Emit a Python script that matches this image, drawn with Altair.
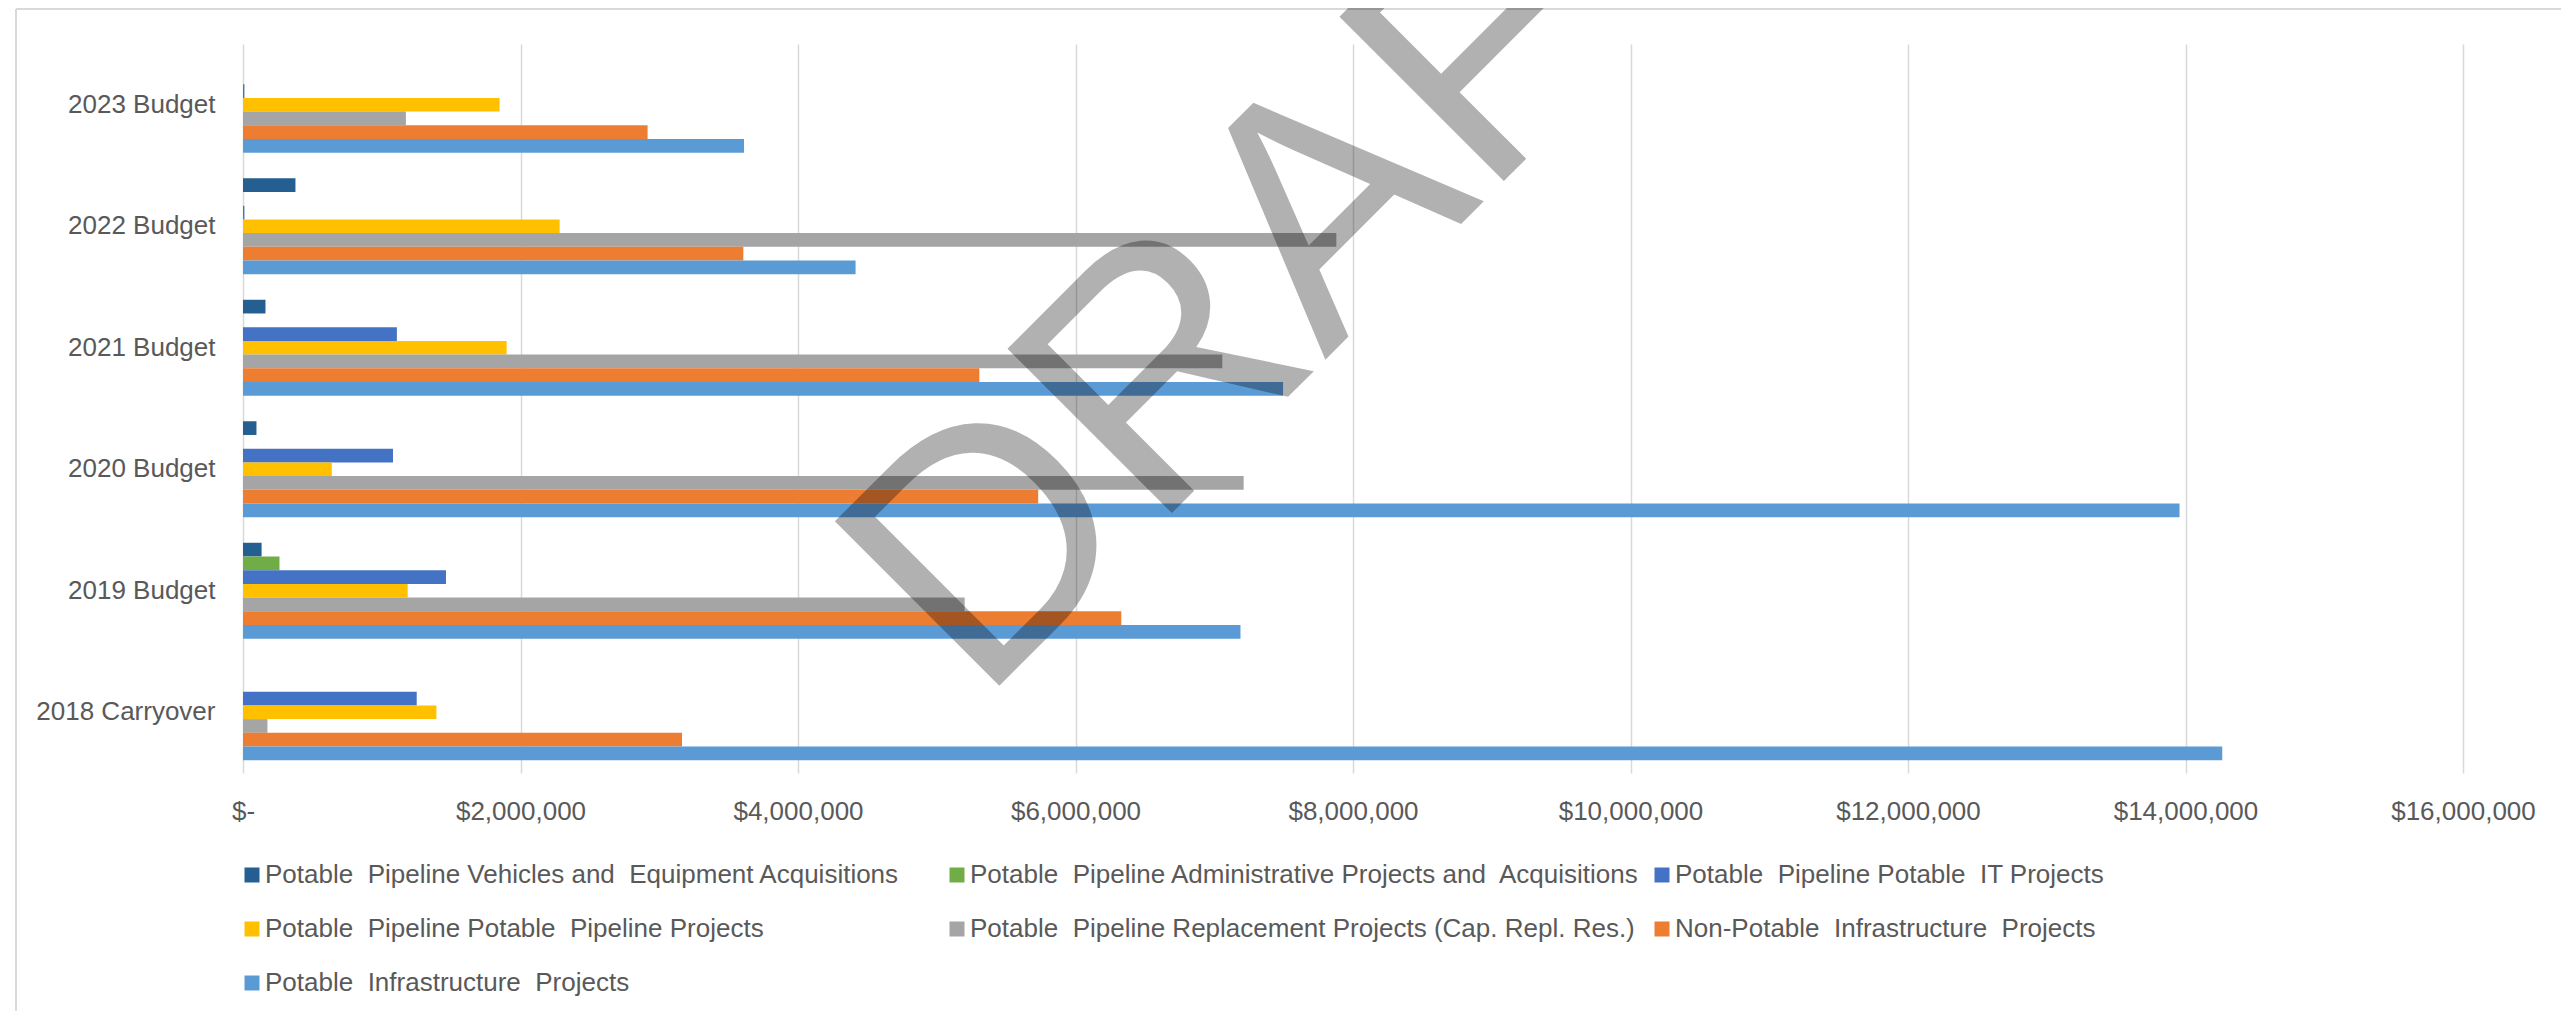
import altair as alt
import pandas as pd

categories = ["2023 Budget", "2022 Budget", "2021 Budget", "2020 Budget", "2019 Budget", "2018 Carryover"]

series = [
    "Potable  Pipeline Vehicles and  Equipment Acquisitions",
    "Potable  Pipeline Administrative Projects and  Acquisitions",
    "Potable  Pipeline Potable  IT Projects",
    "Potable  Pipeline Potable  Pipeline Projects",
    "Potable  Pipeline Replacement Projects (Cap. Repl. Res.)",
    "Non-Potable  Infrastructure  Projects",
    "Potable  Infrastructure  Projects",
]

colors = ["#255E91", "#70AD47", "#4472C4", "#FFC000", "#A5A5A5", "#ED7D31", "#5B9BD5"]

# values per series, in the order of `categories`
vehicles = [0, 378000, 162000, 97000, 134000, 0]
admin = [0, 0, 0, 0, 263000, 0]
it_projects = [10000, 10000, 1109000, 1081000, 1463000, 1252000]
pipeline = [1849000, 2282000, 1900000, 640000, 1187000, 1394000]
replacement = [1174000, 7880000, 7058000, 7212000, 5201000, 176000]
non_potable = [2916000, 3606000, 5307000, 5731000, 6330000, 3164000]
potable_infra = [3611000, 4415000, 7496000, 13957000, 7189000, 14265000]

x_ticks = [0, 2000000, 4000000, 6000000, 8000000, 10000000, 12000000, 14000000, 16000000]

all_values = [vehicles, admin, it_projects, pipeline, replacement, non_potable, potable_infra]
rows = []
for s, vals in zip(series, all_values):
    for c, v in zip(categories, vals):
        rows.append({"category": c, "series": s, "value": v})
df = pd.DataFrame(rows)

FONT = "Liberation Sans"
TXT = "#595959"
NBSP = "\u00a0"

bars = alt.Chart(df).mark_bar().encode(
    y=alt.Y("category:N", sort=categories,
            scale=alt.Scale(paddingInner=0.21, paddingOuter=0.105),
            axis=alt.Axis(title=None, ticks=False, domain=False, labelPadding=28,
                          labelFontSize=26, labelColor=TXT, labelFont=FONT, grid=False)),
    yOffset=alt.YOffset("series:N", sort=series,
                        scale=alt.Scale(domain=series, paddingInner=0, paddingOuter=0)),
    x=alt.X("value:Q", scale=alt.Scale(domain=[0, 16000000], nice=False),
            axis=alt.Axis(title=None, values=x_ticks, ticks=False, domain=False,
                          labelExpr="datum.value == 0 ? '$-' : '$' + format(datum.value, ',')",
                          labelFontSize=26, labelColor=TXT, labelFont=FONT,
                          labelPadding=38, labelBaseline="middle", labelFlush=False,
                          grid=True, gridColor="#D9D9D9", gridWidth=1.5)),
    color=alt.Color("series:N", sort=series,
                    scale=alt.Scale(domain=series, range=colors),
                    legend=alt.Legend(title=None, orient="none", legendX=-4, legendY=818,
                                      direction="horizontal",
                                      columns=3, gridAlign="all", columnPadding=8,
                                      rowPadding=28, symbolType="square", symbolSize=225,
                                      symbolStrokeWidth=0, labelOffset=0, labelLimit=1200,
                                      labelExpr="replace(datum.label, regexp('  ', 'g'), '" + NBSP + " ')",
                                      labelFontSize=26, labelColor=TXT, labelFont=FONT,
                                      padding=0)),
)

frame_top = alt.Chart(pd.DataFrame({"k": [0]})).mark_rule(color="#D9D9D9", strokeWidth=2).encode(
    x=alt.value(-227), x2=alt.value(2330), y=alt.value(-35))
frame_left = alt.Chart(pd.DataFrame({"k": [0]})).mark_rule(color="#D9D9D9", strokeWidth=2).encode(
    x=alt.value(-227), y=alt.value(-35), y2=alt.value(980))

watermark = alt.Chart(pd.DataFrame({"t": ["DRAFT"]})).mark_text(
    text="DRAFT", font=FONT, fontSize=338, angle=315, align="center",
    baseline="alphabetic", color="black", opacity=0.3
).encode(x=alt.value(1135), y=alt.value(263))

chart = alt.layer(frame_top, frame_left, bars, watermark).properties(
    width=2220, height=729,
    padding={"left": 235, "top": 36, "right": 98, "bottom": 238},
    autosize=alt.AutoSizeParams(type="none"),
    background="white",
).configure_view(stroke=None)

chart.save("out.html", embed_options={"renderer": "svg", "actions": False})
